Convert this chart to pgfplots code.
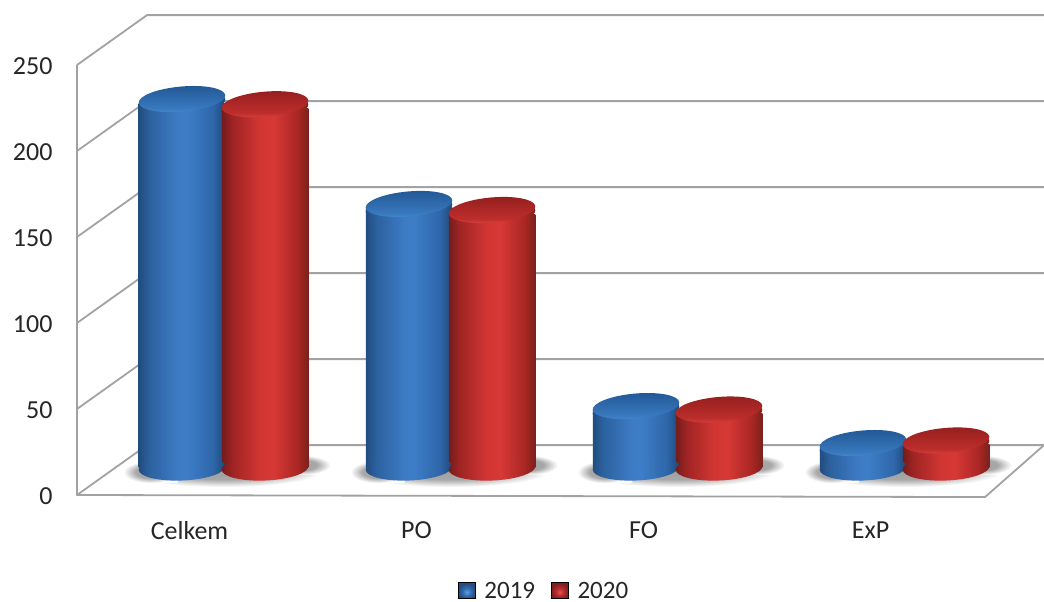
\documentclass[border=0pt]{standalone}
\usepackage{fontspec}
\setmainfont{Carlito}
\usepackage{pgfplots}
\usepackage{pgfplotstable}
\pgfplotsset{compat=1.18}

% cylinder shadings (only the middle 25-75bp of a shading lands on the path)
\pgfdeclarehorizontalshading{bluebody}{100bp}{
  rgb(0bp)=(0.13,0.30,0.50); rgb(25bp)=(0.13,0.30,0.50); rgb(31bp)=(0.17,0.38,0.62); rgb(47bp)=(0.24,0.48,0.77);
  rgb(53bp)=(0.24,0.49,0.78); rgb(68bp)=(0.18,0.40,0.66); rgb(75bp)=(0.12,0.28,0.47); rgb(100bp)=(0.12,0.28,0.47)}
\pgfdeclarehorizontalshading{redbody}{100bp}{
  rgb(0bp)=(0.45,0.11,0.11); rgb(25bp)=(0.45,0.11,0.11); rgb(31bp)=(0.62,0.14,0.14); rgb(47bp)=(0.82,0.21,0.20);
  rgb(55bp)=(0.84,0.22,0.21); rgb(69bp)=(0.66,0.15,0.14); rgb(75bp)=(0.48,0.13,0.11); rgb(100bp)=(0.48,0.13,0.11)}
\pgfdeclareverticalshading{bluetopsh}{100bp}{
  rgb(0bp)=(0.27,0.54,0.82); rgb(25bp)=(0.27,0.54,0.82); rgb(35bp)=(0.22,0.47,0.74); rgb(75bp)=(0.13,0.34,0.58); rgb(100bp)=(0.13,0.34,0.58)}
\pgfdeclareverticalshading{redtopsh}{100bp}{
  rgb(0bp)=(0.87,0.27,0.25); rgb(25bp)=(0.87,0.27,0.25); rgb(35bp)=(0.74,0.18,0.17); rgb(75bp)=(0.58,0.12,0.12); rgb(100bp)=(0.58,0.12,0.12)}
\pgfdeclareradialshading{floorsh}{\pgfpoint{0bp}{0bp}}{
  rgb(0bp)=(0.62,0.62,0.62); rgb(14bp)=(0.66,0.66,0.66); rgb(25bp)=(1,1,1); rgb(50bp)=(1,1,1)}
\pgfdeclareradialshading{blueswatch}{\pgfpoint{0bp}{-6bp}}{
  rgb(0bp)=(0.36,0.62,0.90); rgb(12bp)=(0.20,0.42,0.68); rgb(25bp)=(0.13,0.30,0.50); rgb(50bp)=(0.13,0.30,0.50)}
\pgfdeclareradialshading{redswatch}{\pgfpoint{0bp}{-6bp}}{
  rgb(0bp)=(0.92,0.32,0.32); rgb(12bp)=(0.72,0.17,0.17); rgb(25bp)=(0.50,0.12,0.12); rgb(50bp)=(0.50,0.12,0.12)}

% tilted ellipses, placed by the plot handler
\newcommand{\tiltell}[2]{\pgfpathellipse{\pgfqpoint{0pt}{#1}}{\pgfqpoint{43.3pt}{3.8pt}}{\pgfqpoint{-1.1pt}{12.5pt}}\pgfshadepath{#2}{0}\pgfusepath{discard}}
\newcommand{\baseell}[1]{\pgfpathellipse{\pgfpointorigin}{\pgfqpoint{43.3pt}{1.8pt}}{\pgfqpoint{-0.5pt}{12.5pt}}\pgfshadepath{#1}{0}\pgfusepath{discard}}
\pgfdeclareplotmark{bluetop}{\tiltell{0pt}{bluetopsh}}
\pgfdeclareplotmark{redtop}{\tiltell{0pt}{redtopsh}}
\pgfdeclareplotmark{bluebase}{\baseell{bluebody}}
\pgfdeclareplotmark{redbase}{\baseell{redbody}}
\pgfdeclareplotmark{bluelip}{\tiltell{-4pt}{bluebody}}
\pgfdeclareplotmark{redlip}{\tiltell{-4pt}{redbody}}

\pgfplotstableread{
x  a2019 a2020 base
0  214.5 211.5 0
1  153.5 150   0
2  36    34    0
3  14.5  16    0
}\cyldata

\definecolor{wallgray}{RGB}{162,162,162}
\pgfplotsset{
  wall/.style={wallgray, line width=1.8pt, forget plot, line join=round},
  depth/.style={xshift=33pt, yshift=27pt, forget plot},
  % body stops 4pt under the centre of the top ellipse, so no corner shows
  bluecyl/.style={forget plot, xshift=33pt, yshift=27pt, ybar, bar width=86.5pt, bar shift=-41.5pt, draw=none, shade, shading=bluebody},
  redcyl/.style={forget plot, xshift=33pt, yshift=27pt, ybar, bar width=86.5pt, bar shift=41.5pt, draw=none, shade, shading=redbody},
  floorbase/.style={forget plot, ybar, draw=none, shade, shading=floorsh, xshift=33pt},
  shadowmid/.style={floorbase, yshift=8pt, bar width=200pt, bar shift=0pt},
  shadowleft/.style={floorbase, yshift=12pt, bar width=54pt, bar shift=-73pt},
  shadowright/.style={floorbase, yshift=20pt, bar width=62pt, bar shift=76pt},
}

\begin{document}
\begin{tikzpicture}
\useasboundingbox (0,0) rectangle (1044pt,602pt);
\begin{axis}[
    at={(77pt,107pt)}, anchor=south west,
    scale only axis, width=908pt, height=430pt,
    xmin=-0.5, xmax=3.5, ymin=0, ymax=250,
    clip=false,
    axis line style={draw=none},
    major tick style={draw=none},
    xtick={0,1,2,3},
    xticklabels={Celkem,PO,FO,ExP},
    ytick distance=50,
    /pgf/number format/assume math mode=true,
    tick label style={font=\fontsize{26}{30}\selectfont, text=black!85},
    xticklabel style={yshift=-23pt, xshift=-1pt},
    yticklabel style={xshift=-21pt, yshift=-1pt},
    legend style={at={(0.515,-0.222)}, anchor=center, draw=none, fill=none,
        legend columns=2, font=\fontsize{25}{30}\selectfont, text=black!85,
        /tikz/every odd column/.style={column sep=6pt},
        /tikz/every even column/.style={column sep=13pt},
        nodes={inner xsep=3pt, inner ysep=0pt, text depth=0pt}},
]

% floor shadows, one patch under each pair and one at each side
\pgfplotsinvokeforeach{0,1,2,3}{
  \addplot[shadowmid] coordinates {(#1,19.8)};
  \addplot[shadowleft] coordinates {(#1,12.8)};
  \addplot[shadowright] coordinates {(#1,11.6)};
}

% walls and floor
\addplot[wall] coordinates {(-0.5,250)(-0.5,0)(-0.1916,29)(3.76,29)};
\addplot[wall] coordinates {(-0.5,0)(3.5,-1.2)(3.76,29)};
\addplot[wall] coordinates {(-0.5,50)(-0.1916,79)(3.76,79)};
\addplot[wall] coordinates {(-0.5,100)(-0.1916,129)(3.76,129)};
\addplot[wall] coordinates {(-0.5,150)(-0.1916,179)(3.76,179)};
\addplot[wall] coordinates {(-0.5,200)(-0.1916,229)(3.76,229)};
\addplot[wall] coordinates {(-0.5,250)(-0.1916,279)(3.76,279)};

% cylinder bodies, one plot each so each gets its own shading
\addplot[bluecyl, restrict x to domain=-0.1:0.1] table[x=x, y expr=\thisrow{a2019}-2.33] {\cyldata};
\addplot[bluecyl, restrict x to domain=0.9:1.1] table[x=x, y expr=\thisrow{a2019}-2.33] {\cyldata};
\addplot[bluecyl, restrict x to domain=1.9:2.1] table[x=x, y expr=\thisrow{a2019}-2.33] {\cyldata};
\addplot[bluecyl, restrict x to domain=2.9:3.1] table[x=x, y expr=\thisrow{a2019}-2.33] {\cyldata};
\addplot[redcyl, restrict x to domain=-0.1:0.1] table[x=x, y expr=\thisrow{a2020}-2.33] {\cyldata};
\addplot[redcyl, restrict x to domain=0.9:1.1] table[x=x, y expr=\thisrow{a2020}-2.33] {\cyldata};
\addplot[redcyl, restrict x to domain=1.9:2.1] table[x=x, y expr=\thisrow{a2020}-2.33] {\cyldata};
\addplot[redcyl, restrict x to domain=2.9:3.1] table[x=x, y expr=\thisrow{a2020}-2.33] {\cyldata};

% ellipses: marks land above all the bars, in this order
\addplot[depth, xshift=-41.5pt, only marks, mark=bluelip] table[x=x, y=a2019] {\cyldata};
\addplot[depth, xshift=-41.5pt, only marks, mark=bluetop] table[x=x, y=a2019] {\cyldata};
\addplot[depth, xshift=-41.5pt, only marks, mark=bluebase] table[x=x, y=base] {\cyldata};
\addplot[depth, xshift=41.5pt, only marks, mark=redbase] table[x=x, y=base] {\cyldata};
\addplot[depth, xshift=41.5pt, only marks, mark=redlip] table[x=x, y=a2020] {\cyldata};
\addplot[depth, xshift=41.5pt, only marks, mark=redtop] table[x=x, y=a2020] {\cyldata};

\addlegendimage{legend image code/.code={\path[shade, shading=blueswatch] (0pt,-8pt) rectangle (17pt,8pt);}}
\addlegendentry{2019}
\addlegendimage{legend image code/.code={\path[shade, shading=redswatch] (0pt,-8pt) rectangle (17pt,8pt);}}
\addlegendentry{2020}
\end{axis}
\end{tikzpicture}
\end{document}
